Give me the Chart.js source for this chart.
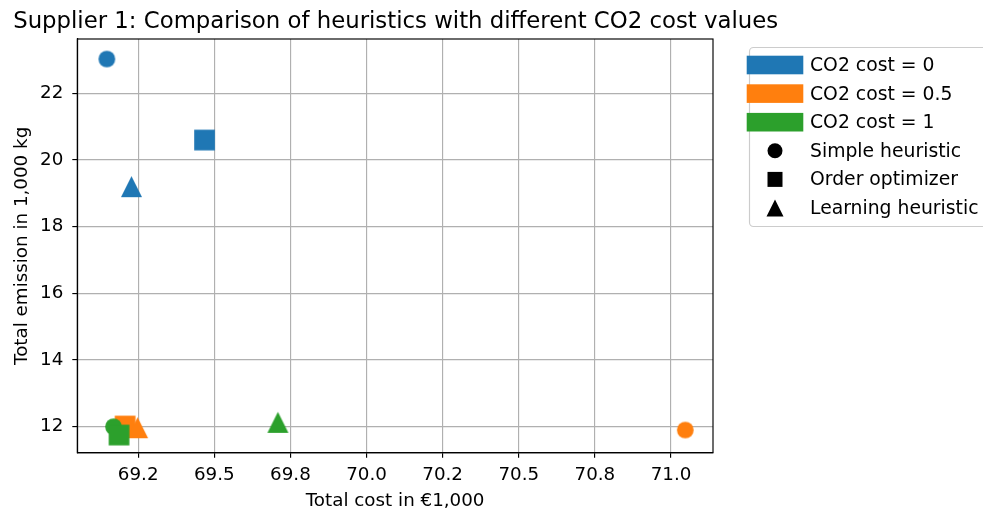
<!DOCTYPE html>
<html>
<head>
<meta charset="utf-8">
<title>Supplier 1 heuristics</title>
<script src="https://cdn.jsdelivr.net/npm/chart.js@4.4.0/dist/chart.umd.min.js"></script>
<style>
  body { margin: 0; background: #fff; }
</style>
</head>
<body>
<canvas id="scatterChart" width="983" height="511"></canvas>
<script>
const chartTitle = 'Supplier 1: Comparison of heuristics with different CO2 cost values';
const co2Costs = ['0', '0.5', '1'];
const heuristics = ['Simple heuristic', 'Order optimizer', 'Learning heuristic'];
const colors = ['#1f77b4', '#ff7f0e', '#2ca02c'];

// total cost (x, in €1,000) and total emission (y, in 1,000 kg)
// order inside each array: simple heuristic, order optimizer, learning heuristic
const costAt0 = [69.147, 69.468, 69.228];
const emissionAt0 = [23.03, 20.60, 19.20];
const costAt05 = [71.047, 69.207, 69.248];
const emissionAt05 = [11.90, 12.02, 11.97];
const costAt1 = [69.169, 69.187, 69.709];
const emissionAt1 = [12.00, 11.75, 12.13];

const xTicks = [69.25, 69.5, 69.75, 70.0, 70.25, 70.5, 70.75, 71.0];
const xTickLabels = ['69.2', '69.5', '69.8', '70.0', '70.2', '70.5', '70.8', '71.0'];
const yTicks = [12, 14, 16, 18, 20, 22];
const yTickLabels = ['12', '14', '16', '18', '20', '22'];

const family = "'DejaVu Sans', sans-serif";
const fontSize = 18.3;
const shapes = ['circle', 'square', 'triangle'];
const markerSizes = [16.7, 20.7, 21];

// draws a filled marker into a small canvas, used as pointStyle
function makeMarker(shape, color, size) {
  const c = document.createElement('canvas');
  c.width = c.height = Math.ceil(size) + 4;
  const g = c.getContext('2d');
  drawShape(g, shape, c.width / 2, c.height / 2, size, color);
  return c;
}

function drawShape(g, shape, x, y, size, color) {
  const h = size / 2;
  g.fillStyle = color;
  g.beginPath();
  if (shape === 'circle') {
    g.arc(x, y, h, 0, Math.PI * 2);
  } else if (shape === 'square') {
    g.rect(x - h, y - h, size, size);
  } else {
    g.moveTo(x, y - h);
    g.lineTo(x + h, y + h);
    g.lineTo(x - h, y + h);
    g.closePath();
  }
  g.fill();
}

const series = [[costAt0, emissionAt0], [costAt05, emissionAt05], [costAt1, emissionAt1]];

const datasets = series.map(([xs, ys], i) => ({
  label: 'CO2 cost = ' + co2Costs[i],
  data: xs.map((x, j) => ({ x: x, y: ys[j] })),
  pointStyle: shapes.map((s, j) => makeMarker(s, colors[i], markerSizes[j])),
  backgroundColor: colors[i],
  borderColor: colors[i],
  pointRadius: 10,
  pointHoverRadius: 10,
  order: series.length - i
}));

// title over the plot area plus a full box around it
const frame = {
  id: 'frame',
  afterDraw(chart) {
    const { ctx, chartArea: a } = chart;
    ctx.save();
    ctx.strokeStyle = '#000';
    ctx.lineWidth = 1.15;
    ctx.strokeRect(a.left, a.top, a.right - a.left, a.bottom - a.top);
    ctx.fillStyle = '#000';
    ctx.font = '22.8px ' + family;
    ctx.textAlign = 'center';
    ctx.textBaseline = 'alphabetic';
    ctx.fillText(chartTitle, (a.left + a.right) / 2 + 0.5, 28.3);
    ctx.restore();
  }
};

// legend to the right of the plot: colour patches for the CO2 cost, black markers for the heuristic
const sideLegend = {
  id: 'sideLegend',
  afterDraw(chart) {
    const { ctx, chartArea: a } = chart;
    const left = a.right + 36;
    const top = 47.5;
    const rowTop = 65;
    const step = 28.6;
    ctx.save();
    ctx.fillStyle = 'rgba(255,255,255,0.8)';
    ctx.strokeStyle = '#cccccc';
    ctx.lineWidth = 1.15;
    ctx.beginPath();
    ctx.roundRect(left + 0.5, top, 260, 179, 4);
    ctx.fill();
    ctx.stroke();

    ctx.font = '18.8px ' + family;
    ctx.textBaseline = 'middle';
    ctx.textAlign = 'left';
    const textX = left + 61;
    co2Costs.forEach((c, i) => {
      const y = rowTop + i * step;
      ctx.fillStyle = colors[i];
      ctx.fillRect(left - 2.3, y - 9.3, 56.6, 18.6);
      ctx.fillStyle = '#000';
      ctx.fillText('CO2 cost = ' + c, textX, y + 1.2);
    });
    const legendSizes = [15, 15, 17];
    heuristics.forEach((h, j) => {
      const y = rowTop + (co2Costs.length + j) * step;
      drawShape(ctx, shapes[j], left + 26, y, legendSizes[j], '#000');
      ctx.fillStyle = '#000';
      ctx.fillText(h, textX, y + 1.2);
    });
    ctx.restore();
  }
};

const ctx = document.getElementById('scatterChart').getContext('2d');
const scatterChart = new Chart(ctx, {
  type: 'scatter',
  data: { datasets: datasets },
  options: {
    responsive: false,
    animation: false,
    events: [],
    layout: { padding: { left: 0, right: 270, top: 39, bottom: 0 } },
    plugins: {
      legend: { display: false },
      tooltip: { enabled: false },
      title: { display: false }
    },
    scales: {
      x: {
        type: 'linear',
        min: 69.05,
        max: 71.138,
        z: 1,
        afterBuildTicks: axis => { axis.ticks = xTicks.map(v => ({ value: v })); },
        afterFit: axis => { axis.height = 58.3; },
        ticks: {
          color: '#000',
          padding: 7,
          maxRotation: 0,
          font: { family: family, size: fontSize },
          callback: (v, i) => xTickLabels[i]
        },
        grid: { color: '#b0b0b0', lineWidth: 1.15, tickColor: '#000', tickLength: 5 },
        border: { color: '#000', width: 1.15 },
        title: {
          display: true,
          text: 'Total cost in €1,000',
          color: '#000',
          font: { family: family, size: fontSize, lineHeight: 1.2 },
          padding: { top: 0, bottom: -1 }
        }
      },
      y: {
        type: 'linear',
        min: 11.22,
        max: 23.63,
        z: 1,
        afterBuildTicks: axis => { axis.ticks = yTicks.map(v => ({ value: v })); },
        afterFit: axis => { axis.width = 77.3; },
        ticks: {
          color: '#000',
          padding: 9,
          font: { family: family, size: fontSize },
          callback: (v, i) => yTickLabels[i]
        },
        grid: { color: '#b0b0b0', lineWidth: 1.15, tickColor: '#000', tickLength: 5 },
        border: { color: '#000', width: 1.15 },
        title: {
          display: true,
          text: 'Total emission in 1,000 kg',
          color: '#000',
          font: { family: family, size: fontSize, lineHeight: 1.2 },
          padding: { top: 11, bottom: 0 }
        }
      }
    }
  },
  plugins: [frame, sideLegend]
});
</script>
</body>
</html>
